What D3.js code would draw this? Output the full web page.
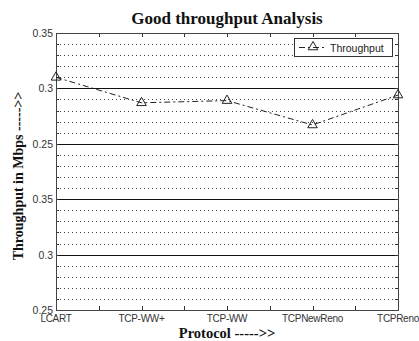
<!DOCTYPE html>
<html><head><meta charset="utf-8">
<script src="https://cdn.jsdelivr.net/npm/d3@7"></script>
<style>body{margin:0;background:#fff}</style>
</head><body>
<script>
const categories = ["LCART","TCP-WW+","TCP-WW","TCPNewReno","TCPReno"];
const throughput = [0.310, 0.287, 0.289, 0.267, 0.294];
const yTickValues = [0.35, 0.30, 0.25, 0.20, 0.15, 0.10];
const yTickLabels = ["0.35","0.3","0.25","0.35","0.3","0.25"];
const seriesName = "Throughput";

const W = 419, H = 341;
const m = {left:56, right:21, top:33, bottom:31};
const svg = d3.select("body").append("svg").attr("width",W).attr("height",H);
const x = d3.scaleLinear().domain([0, categories.length-1]).range([m.left, W-m.right]);
const y = d3.scaleLinear().domain([0.10,0.35]).range([H-m.bottom, m.top]);

const g = svg.append("g");
// minor dotted grid
const minor = d3.range(0.11, 0.35, 0.01).filter(v => Math.abs(Math.round(v*100)%5) !== 0);
g.selectAll("line.minor").data(minor).join("line")
  .attr("x1", m.left).attr("x2", W-m.right)
  .attr("y1", d=>Math.round(y(d))+0.5).attr("y2", d=>Math.round(y(d))+0.5)
  .attr("stroke","#444").attr("stroke-width",1).attr("stroke-dasharray","1,3");
// major solid grid
g.selectAll("line.major").data(yTickValues.slice(1,-1)).join("line")
  .attr("x1", m.left).attr("x2", W-m.right)
  .attr("y1", d=>Math.round(y(d))+0.5).attr("y2", d=>Math.round(y(d))+0.5)
  .attr("stroke","#111").attr("stroke-width",1);

// ticks on x (half steps), top & bottom, inward
const xt = d3.range(0, categories.length-1+0.01, 0.5);
g.selectAll("line.xtb").data(xt).join("line")
  .attr("x1", d=>Math.round(x(d))+0.5).attr("x2", d=>Math.round(x(d))+0.5)
  .attr("y1", y(0.10)).attr("y2", y(0.10)-4).attr("stroke","#333");
g.selectAll("line.xtt").data(xt).join("line")
  .attr("x1", d=>Math.round(x(d))+0.5).attr("x2", d=>Math.round(x(d))+0.5)
  .attr("y1", y(0.35)).attr("y2", y(0.35)+4).attr("stroke","#333");
// y ticks left/right
const yt = d3.range(0.10, 0.355, 0.01);
g.selectAll("line.ytl").data(yt).join("line")
  .attr("x1", m.left).attr("x2", m.left+3)
  .attr("y1", d=>Math.round(y(d))+0.5).attr("y2", d=>Math.round(y(d))+0.5).attr("stroke","#333");
g.selectAll("line.ytr").data(yt).join("line")
  .attr("x1", W-m.right).attr("x2", W-m.right-3)
  .attr("y1", d=>Math.round(y(d))+0.5).attr("y2", d=>Math.round(y(d))+0.5).attr("stroke","#333");

// frame
g.append("rect").attr("x", m.left+0.5).attr("y", m.top+0.5)
  .attr("width", W-m.right-m.left).attr("height", H-m.bottom-m.top)
  .attr("fill","none").attr("stroke","#444").attr("stroke-width",1);

// y tick labels
g.selectAll("text.yl").data(yTickValues).join("text")
  .attr("x", m.left-3).attr("y", d=>y(d)+4)
  .attr("text-anchor","end").attr("font-family","Liberation Sans, Arial, sans-serif")
  .attr("font-size",10.5).attr("fill","#333").text((d,i)=>yTickLabels[i]);
// x tick labels
g.selectAll("text.xl").data(categories).join("text")
  .attr("x", (d,i)=>x(i)).attr("y", H-m.bottom+12)
  .attr("text-anchor","middle").attr("font-family","Liberation Sans, Arial, sans-serif")
  .attr("font-size",10).attr("letter-spacing",-0.3).attr("fill","#333").text(d=>d);

// line
const line = d3.line().x((d,i)=>x(i)).y(d=>y(d));
g.append("path").datum(throughput).attr("d", line)
  .attr("fill","none").attr("stroke","#222").attr("stroke-width",1)
  .attr("stroke-dasharray","6,3,2,3");
const tri = d3.symbol().type(d3.symbolTriangle).size(40);
g.selectAll("path.pt").data(throughput).join("path")
  .attr("d", tri).attr("transform",(d,i)=>`translate(${x(i)},${y(d)})`)
  .attr("fill","none").attr("stroke","#222").attr("stroke-width",1);

// legend
const lg = g.append("g");
lg.append("rect").attr("x",294.5).attr("y",38.5).attr("width",98).attr("height",18)
  .attr("fill","#fff").attr("stroke","#333");
lg.append("line").attr("x1",299).attr("x2",327).attr("y1",47.5).attr("y2",47.5)
  .attr("stroke","#222").attr("stroke-dasharray","6,3,2,3");
lg.append("path").attr("d",tri).attr("transform","translate(313,47)")
  .attr("fill","none").attr("stroke","#222");
lg.append("text").attr("x",330).attr("y",51.5).attr("font-family","Liberation Sans, Arial, sans-serif")
  .attr("font-size",10.5).attr("fill","#222").text(seriesName);

// titles
svg.append("text").attr("x",(m.left+W-m.right)/2).attr("y",24).attr("text-anchor","middle")
  .attr("font-family","Liberation Serif, Times New Roman, serif").attr("font-weight","bold")
  .attr("font-size",17).attr("fill","#111").text("Good throughput Analysis");
svg.append("text").attr("x",(m.left+W-m.right)/2).attr("y",337.5).attr("text-anchor","middle")
  .attr("font-family","Liberation Serif, Times New Roman, serif").attr("font-weight","bold")
  .attr("font-size",14.5).attr("fill","#111").text("Protocol ----->>");
svg.append("text").attr("transform",`translate(23,176) rotate(-90)`)
  .attr("text-anchor","middle")
  .attr("font-family","Liberation Serif, Times New Roman, serif").attr("font-weight","bold")
  .attr("font-size",14).attr("fill","#111").text("Throughput in Mbps ----->>");
</script>
</body></html>
